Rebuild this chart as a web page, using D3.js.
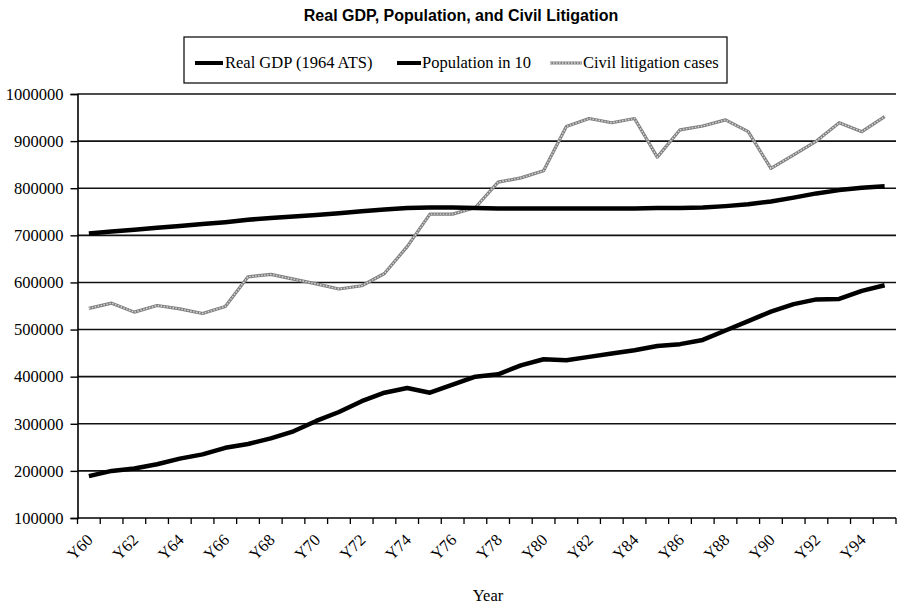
<!DOCTYPE html>
<html>
<head>
<meta charset="utf-8">
<script src="https://cdn.jsdelivr.net/npm/d3@7/dist/d3.min.js"></script>
<style>
  html, body { margin: 0; padding: 0; background: #fff; }
  svg { display: block; }
</style>
</head>
<body>
<svg id="chart" width="899" height="605"></svg>
<script>
// Years Y60 .. Y95
const categories = ["Y60","Y61","Y62","Y63","Y64","Y65","Y66","Y67","Y68","Y69",
  "Y70","Y71","Y72","Y73","Y74","Y75","Y76","Y77","Y78","Y79",
  "Y80","Y81","Y82","Y83","Y84","Y85","Y86","Y87","Y88","Y89",
  "Y90","Y91","Y92","Y93","Y94","Y95"];

const xTickLabels = ["Y60","Y62","Y64","Y66","Y68","Y70","Y72","Y74","Y76","Y78",
  "Y80","Y82","Y84","Y86","Y88","Y90","Y92","Y94"];

const yTicks = [100000,200000,300000,400000,500000,600000,700000,800000,900000,1000000];

const seriesNames = ["Real GDP (1964 ATS)", "Population in 10", "Civil litigation cases"];

const gdp = [189000,200000,205000,214000,226000,235000,249000,257000,269000,284000,
  306000,325000,348000,366000,376000,366000,383000,400000,405000,424000,
  437000,435000,442000,449000,456000,465000,469000,478000,498000,518000,
  538000,554000,564000,565000,582000,594000];

const population = [704000,708000,712000,716000,720000,724000,728000,733000,737000,740000,
  743000,747000,751000,755000,758000,759000,759000,758000,757000,757000,
  757000,757000,757000,757000,757000,758000,758000,759000,762000,766000,
  772000,780000,789000,796000,801000,804000];

const litigation = [545000,556000,537000,551000,544000,534000,549000,612000,617000,607000,
  597000,586000,593000,619000,676000,745000,745000,759000,813000,822000,
  837000,931000,948000,939000,948000,866000,924000,932000,945000,920000,
  842000,871000,900000,939000,920000,952000];

const serif = "'Liberation Serif','Times New Roman',serif";
const sans = "'Liberation Sans',Arial,sans-serif";

const svg = d3.select("#chart");

const plot = { left: 77.5, right: 896, top: 94, bottom: 518 };

const x = d3.scaleBand().domain(categories).range([plot.left, plot.right]);
const cx = c => x(c) + x.bandwidth() / 2;
const y = d3.scaleLinear().domain([100000, 1000000]).range([plot.bottom, plot.top]);

// Title
svg.append("text")
  .attr("x", 461).attr("y", 21)
  .attr("text-anchor", "middle")
  .style("font-family", sans).style("font-weight", "bold").style("font-size", "16px")
  .text("Real GDP, Population, and Civil Litigation");

// Horizontal gridlines
svg.append("g").selectAll("line")
  .data(yTicks.filter(v => v > 100000))
  .join("line")
  .attr("x1", plot.left).attr("x2", plot.right)
  .attr("y1", d => y(d)).attr("y2", d => y(d))
  .attr("stroke", "#111").attr("stroke-width", 1.6);

// Y axis
const yAxis = svg.append("g")
  .attr("transform", `translate(${plot.left},0)`)
  .call(d3.axisLeft(y).tickValues(yTicks).tickSize(7).tickPadding(7).tickFormat(d3.format("d")));
yAxis.select(".domain").attr("stroke", "#000").attr("stroke-width", 1.6);
yAxis.selectAll(".tick line").attr("stroke", "#000").attr("stroke-width", 1.4);
yAxis.selectAll(".tick text")
  .style("font-family", serif).style("font-size", "16.5px").attr("fill", "#000");

// X axis: tick marks at category boundaries
const xAxis = svg.append("g").attr("transform", `translate(0,${plot.bottom})`);
xAxis.append("line")
  .attr("x1", plot.left).attr("x2", plot.right)
  .attr("stroke", "#000").attr("stroke-width", 1.6);
const bounds = categories.map(c => x(c)).concat([x.range()[1]]);
xAxis.selectAll("line.tk").data(bounds).join("line")
  .attr("class", "tk")
  .attr("x1", d => d).attr("x2", d => d)
  .attr("y1", 0).attr("y2", 6)
  .attr("stroke", "#000").attr("stroke-width", 1.3);

// X labels, rotated
const xLab = svg.append("g")
  .attr("transform", `translate(0,${plot.bottom})`)
  .call(d3.axisBottom(x).tickValues(xTickLabels).tickSize(0));
xLab.select(".domain").remove();
xLab.selectAll(".tick text")
  .attr("x", 0).attr("y", 0).attr("dy", 0)
  .attr("text-anchor", "end")
  .attr("transform", "translate(5,23) rotate(-45)")
  .style("font-family", serif).style("font-size", "16.5px").attr("fill", "#000");

// Axis title
svg.append("text")
  .attr("x", 488).attr("y", 601)
  .attr("text-anchor", "middle")
  .style("font-family", serif).style("font-size", "16.5px")
  .text("Year");

// Lines
const line = vals => d3.line()
  .x((d, i) => cx(categories[i]))
  .y(d => y(d))(vals);

// Civil litigation: grey textured stroke
svg.append("path").attr("d", line(litigation))
  .attr("fill", "none").attr("stroke", "#808080").attr("stroke-width", 3.2)
  .attr("stroke-linejoin", "round");
svg.append("path").attr("d", line(litigation))
  .attr("fill", "none").attr("stroke", "#d8d8d8").attr("stroke-width", 1.4)
  .attr("stroke-dasharray", "1.5,1.5");

svg.append("path").attr("d", line(population))
  .attr("fill", "none").attr("stroke", "#000").attr("stroke-width", 4.5)
  .attr("stroke-linejoin", "round");

svg.append("path").attr("d", line(gdp))
  .attr("fill", "none").attr("stroke", "#000").attr("stroke-width", 4.5)
  .attr("stroke-linejoin", "round");

// Legend
const legend = svg.append("g");
legend.append("rect")
  .attr("x", 184).attr("y", 37).attr("width", 543).attr("height", 46)
  .attr("fill", "#fff").attr("stroke", "#000").attr("stroke-width", 1.2);

const legendItems = [
  { name: seriesNames[0], x0: 195, x1: 223, tx: 225, kind: "solid" },
  { name: seriesNames[1], x0: 397, x1: 421, tx: 422, kind: "solid" },
  { name: seriesNames[2], x0: 550, x1: 582, tx: 583, kind: "grey" }
];
legendItems.forEach(it => {
  if (it.kind === "solid") {
    legend.append("line").attr("x1", it.x0).attr("x2", it.x1).attr("y1", 63).attr("y2", 63)
      .attr("stroke", "#000").attr("stroke-width", 4);
  } else {
    legend.append("line").attr("x1", it.x0).attr("x2", it.x1).attr("y1", 63).attr("y2", 63)
      .attr("stroke", "#808080").attr("stroke-width", 3);
    legend.append("line").attr("x1", it.x0).attr("x2", it.x1).attr("y1", 63).attr("y2", 63)
      .attr("stroke", "#d8d8d8").attr("stroke-width", 1.3).attr("stroke-dasharray", "1.5,1.5");
  }
  legend.append("text")
    .attr("x", it.tx).attr("y", 68)
    .style("font-family", serif).style("font-size", "16.5px")
    .text(it.name);
});
</script>
</body>
</html>
